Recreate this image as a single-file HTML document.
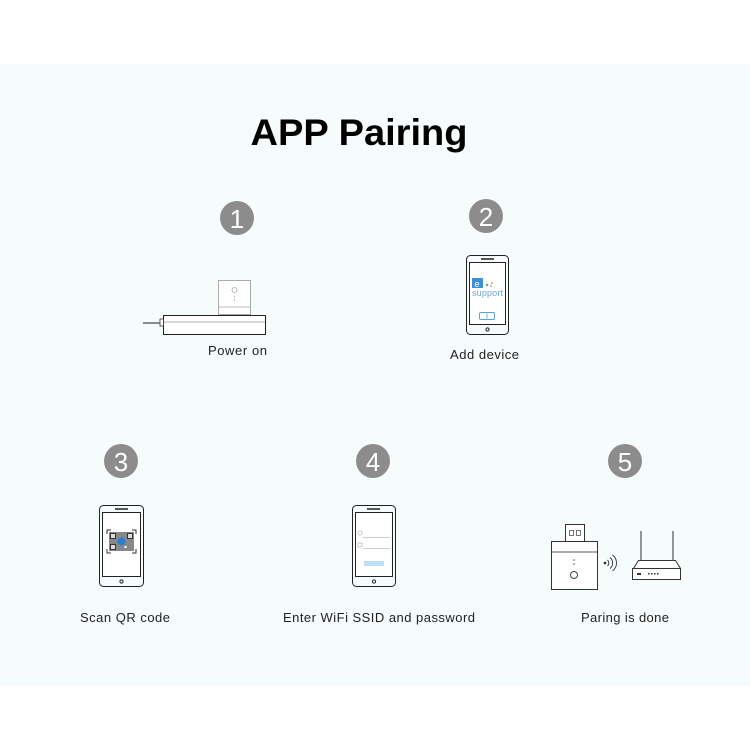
<!DOCTYPE html>
<html><head><meta charset="utf-8"><style>
html,body{margin:0;padding:0;background:#fff;}
svg{display:block;}
text{font-family:"Liberation Sans",Arial,sans-serif;}
</style></head><body>
<svg width="750" height="750" viewBox="0 0 750 750" xmlns="http://www.w3.org/2000/svg">
<rect x="0" y="0" width="750" height="750" fill="#fff"/>
<rect x="0" y="64" width="750" height="622" fill="#f6fbfc"/>
<text x="359" y="145" font-size="37" font-weight="bold" text-anchor="middle" textLength="217" lengthAdjust="spacingAndGlyphs" fill="#000">APP Pairing</text>

<g fill="#8c8c8c">
<circle cx="237" cy="218" r="17"/><circle cx="486" cy="216" r="17"/>
<circle cx="121" cy="461" r="17"/><circle cx="373" cy="461" r="17"/><circle cx="625" cy="461" r="17"/>
</g>
<g fill="#fff" font-size="26" text-anchor="middle">
<text x="237" y="228">1</text><text x="486" y="226">2</text>
<text x="121" y="471">3</text><text x="373" y="471">4</text><text x="625" y="471">5</text>
</g>

<!-- device 1 -->
<rect x="218.5" y="280.5" width="32" height="34" fill="#fff" stroke="#aaa"/>
<line x1="218" y1="307" x2="251" y2="307" stroke="#bbb"/>
<circle cx="234.5" cy="290" r="2.5" fill="none" stroke="#aaa" stroke-width="0.8"/>
<circle cx="234.5" cy="297" r="0.7" fill="#aaa"/><circle cx="234.5" cy="300" r="0.7" fill="#aaa"/>
<rect x="163.5" y="315.5" width="102" height="19" fill="#fff" stroke="#222"/>
<line x1="164" y1="322" x2="265" y2="322" stroke="#999" stroke-width="0.8"/>
<rect x="160" y="319" width="3.5" height="7" fill="#fff" stroke="#333" stroke-width="0.8"/>
<line x1="143" y1="323" x2="160" y2="323" stroke="#666" stroke-width="1.5"/>
<text x="208" y="355" font-size="13" fill="#222" textLength="59">Power on</text>

<!-- phone 2 -->
<g fill="none" stroke="#222">
<rect x="466.5" y="255.5" width="42" height="79" rx="4"/>
<rect x="469.5" y="262.5" width="36" height="62" fill="#fff"/>
<line x1="481" y1="259" x2="494" y2="259" stroke-width="1.5"/>
<circle cx="487.5" cy="329.5" r="1.6"/>
</g>
<rect x="472" y="278" width="11" height="10" fill="#3d8fd6"/>
<text x="474.5" y="287" font-size="9" fill="#fff">e</text>
<circle cx="487" cy="285" r="1.3" fill="#6aa0d0"/><circle cx="491" cy="286" r="1" fill="#d8b050"/><circle cx="492" cy="283" r="1" fill="#d8b050"/>
<text x="472" y="296" font-size="9" fill="#6aaad8" textLength="31">support</text>
<rect x="479.5" y="312.5" width="15" height="7" rx="1.5" fill="none" stroke="#5aa0d8"/>
<line x1="487" y1="313.5" x2="487" y2="318.5" stroke="#5aa0d8" stroke-width="0.8"/>
<text x="450" y="359" font-size="13" fill="#222" textLength="69">Add device</text>

<!-- phone 3 -->
<g fill="none" stroke="#222">
<rect x="99.5" y="505.5" width="44" height="81" rx="4"/>
<rect x="102.5" y="512.5" width="38" height="64" fill="#fff"/>
<line x1="115" y1="509" x2="128" y2="509" stroke-width="1.5"/>
<circle cx="121.5" cy="581.5" r="1.6"/>
<path d="M107 534v-4h4M132 530h4v4M107 549v4h4M132 553h4v-4" stroke="#333"/>
</g>
<rect x="109" y="532" width="25" height="19" fill="#888"/>
<g fill="#333"><rect x="110" y="533" width="6" height="6"/><rect x="127" y="533" width="6" height="6"/><rect x="110" y="544" width="6" height="6"/></g>
<g fill="#ddd"><rect x="111" y="534" width="4" height="4"/><rect x="128" y="534" width="4" height="4"/><rect x="111" y="545" width="4" height="4"/><rect x="118" y="540" width="3" height="2"/><rect x="124" y="546" width="3" height="2"/></g>
<circle cx="121.5" cy="541.5" r="4" fill="#2a7fd0"/>
<text x="80" y="622" font-size="13" fill="#222" textLength="90">Scan QR code</text>

<!-- phone 4 -->
<g fill="none" stroke="#222">
<rect x="352.5" y="505.5" width="43" height="81" rx="4"/>
<rect x="355.5" y="512.5" width="37" height="64" fill="#fff"/>
<line x1="367" y1="509" x2="380" y2="509" stroke-width="1.5"/>
<circle cx="374" cy="581.5" r="1.6"/>
</g>
<g stroke="#bbb" fill="none" stroke-width="0.8">
<circle cx="360" cy="533" r="2"/><line x1="363" y1="537.5" x2="390" y2="537.5"/>
<rect x="358" y="543" width="4" height="4"/><line x1="363" y1="548.5" x2="390" y2="548.5"/>
</g>
<rect x="364" y="561" width="20" height="5" fill="#bfe0f4"/>
<text x="283" y="622" font-size="13" fill="#222" textLength="192">Enter WiFi SSID and password</text>

<!-- device 5 -->
<rect x="565.5" y="524.5" width="19" height="17" fill="#fff" stroke="#333"/>
<rect x="569.5" y="530.5" width="4" height="5" fill="none" stroke="#555" stroke-width="0.8"/>
<rect x="576.5" y="530.5" width="4" height="5" fill="none" stroke="#555" stroke-width="0.8"/>
<rect x="551.5" y="541.5" width="46" height="48" fill="#fff" stroke="#333"/>
<line x1="552" y1="552" x2="597" y2="552" stroke="#555"/>
<circle cx="574" cy="560" r="0.8" fill="#555"/><circle cx="574" cy="564" r="0.8" fill="#555"/>
<circle cx="574" cy="575" r="3.5" fill="none" stroke="#444"/>
<g fill="none" stroke="#333" stroke-width="0.9">
<circle cx="605" cy="563" r="0.9" fill="#333"/>
<path d="M607.5 560a4 4 0 0 1 0 6"/><path d="M610 557.5a7 7 0 0 1 0 11"/><path d="M612.5 555a10 10 0 0 1 0 16"/>
</g>
<g stroke="#333" fill="#fff">
<line x1="641" y1="531" x2="641" y2="560"/><line x1="673" y1="531" x2="673" y2="560"/>
<path d="M638.5 560.5h37l5 8h-47z"/>
<rect x="632.5" y="568.5" width="48" height="11"/>
</g>
<g fill="#333"><rect x="637" y="573" width="4" height="2"/><rect x="648" y="573" width="1.5" height="1.5"/><rect x="651" y="573" width="1.5" height="1.5"/><rect x="654" y="573" width="1.5" height="1.5"/><rect x="657" y="573" width="1.5" height="1.5"/></g>
<text x="581" y="622" font-size="13" fill="#222" textLength="88">Paring is done</text>
</svg>
</body></html>
